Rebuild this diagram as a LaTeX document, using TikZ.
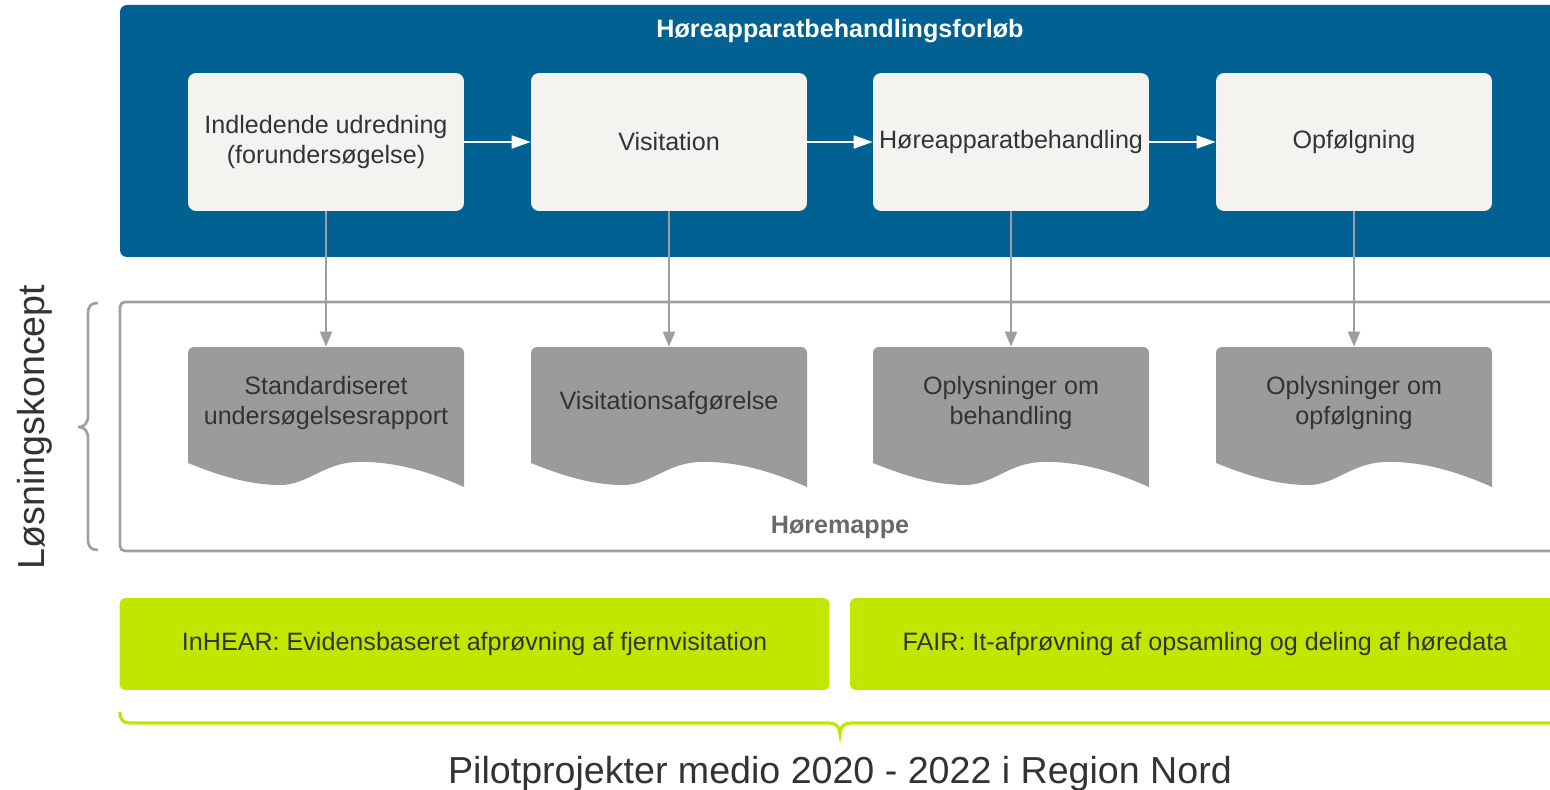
\documentclass[tikz,border=0pt]{standalone}
\usepackage{fontspec}
\setmainfont{Liberation Sans}
\usetikzlibrary{arrows.meta}
\definecolor{hblue}{RGB}{0,97,146}
\definecolor{pbox}{RGB}{244,243,239}
\definecolor{docgray}{RGB}{155,155,155}
\definecolor{linegray}{RGB}{158,158,158}
\definecolor{lime}{RGB}{193,230,0}
\definecolor{txt}{RGB}{51,51,51}
\definecolor{hmtxt}{RGB}{105,105,105}
\begin{document}
\begin{tikzpicture}[x=0.02cm,y=-0.02cm,
  font=\fontsize{14.3}{17}\selectfont,
  procbox/.style={fill=pbox, rounded corners=0.16cm, minimum width=5.52cm, minimum height=2.76cm, inner sep=0pt, align=center, text=txt},
  docnode/.style={minimum width=5.52cm, minimum height=2.24cm, inner sep=0pt, align=center, text=txt},
  greenbox/.style={fill=lime, rounded corners=0.12cm, minimum width=14.2cm, minimum height=1.84cm, inner sep=0pt, text=txt},
  warrow/.style={draw=white, line width=1pt, -{Triangle[length=0.38cm,width=0.26cm]}},
  garrow/.style={draw=linegray, line width=1.1pt, -{Triangle[length=0.3cm,width=0.24cm]}},
  docshape/.pic={
    \fill[docgray] (0,116) [rounded corners=0.12cm] -- (0,0) -- (276,0) [sharp corners] -- (276,140)
      .. controls (240,124) and (205,114) .. (169,115)
      .. controls (135,116) and (120,138) .. (92,138)
      .. controls (60,138) and (30,128) .. (0,116) -- cycle;
  }
]
\clip (0,0) rectangle (1550,790);
% blue process band
\fill[hblue, rounded corners=0.14cm] (120,5) rectangle (1560,257);
\node[text=white, font=\fontsize{14.3}{17}\selectfont\bfseries] (title) at (840,31) {Høreapparatbehandlingsforløb};
\node[procbox] (p1) at (326,142) {Indledende udredning\\(forundersøgelse)};
\node[procbox] (p2) at (669,142) {Visitation};
\node[procbox] (p3) at (1011,142) {Høreapparatbehandling};
\node[procbox] (p4) at (1354,142) {Opfølgning};
\draw[warrow] (p1.east) -- (p2.west);
\draw[warrow] (p2.east) -- (p3.west);
\draw[warrow] (p3.east) -- (p4.west);
% Høremappe frame
\draw[linegray, line width=1.5pt, rounded corners=0.1cm] (120,302) rectangle (1560,551);
\node[anchor=base, text=hmtxt, font=\fontsize{14.3}{17}\selectfont\bfseries] (hm) at (840,533) {Høremappe};
% documents
\pic at (188,347) {docshape};
\pic at (531,347) {docshape};
\pic at (873,347) {docshape};
\pic at (1216,347) {docshape};
\node[docnode] (d1) at (326,403) {Standardiseret\\undersøgelsesrapport};
\node[docnode] (d2) at (669,403) {Visitationsafgørelse};
\node[docnode] (d3) at (1011,403) {Oplysninger om\\behandling};
\node[docnode] (d4) at (1354,403) {Oplysninger om\\opfølgning};
\draw[garrow] (p1.south) -- (d1.north);
\draw[garrow] (p2.south) -- (d2.north);
\draw[garrow] (p3.south) -- (d3.north);
\draw[garrow] (p4.south) -- (d4.north);
% left brace and label
\draw[linegray, line width=1.5pt] (98,303) .. controls (91,303) and (88,306) .. (88,314) -- (88,415)
  .. controls (88,423) and (85,427) .. (78,427)
  .. controls (85,427) and (88,431) .. (88,439) -- (88,539)
  .. controls (88,547) and (91,550) .. (98,550);
\node[rotate=90, anchor=base, text=txt, font=\fontsize{21.4}{25}\selectfont] (lk) at (44,427) {Løsningskoncept};
% green pilot projects
\node[greenbox] (g1) at (474.5,644) {InHEAR: Evidensbaseret afprøvning af fjernvisitation};
\node[greenbox] (g2) at (1205,644) {FAIR: It-afprøvning af opsamling og deling af høredata};
\draw[lime, line width=1.8pt] (120,712) .. controls (120,720) and (123,723) .. (130,723) -- (829,723)
  .. controls (836,723) and (840,727) .. (840,734)
  .. controls (840,727) and (844,723) .. (851,723) -- (1560,723);
\node[anchor=base, text=txt, font=\fontsize{21.4}{25}\selectfont] (pp) at (840,783) {Pilotprojekter medio 2020 - 2022 i Region Nord};
\end{tikzpicture}
\end{document}
